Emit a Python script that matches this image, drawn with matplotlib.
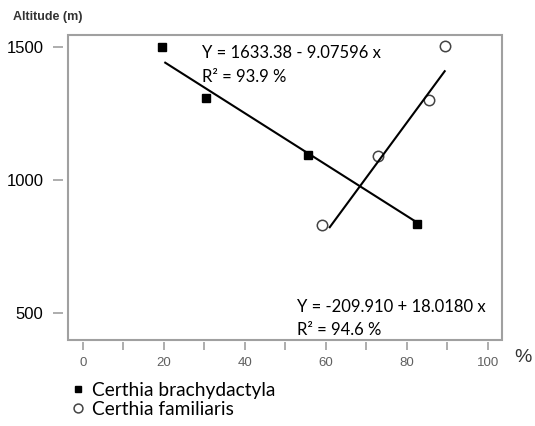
import numpy as np
import matplotlib
matplotlib.use('Agg')
from matplotlib import pyplot as plt
from matplotlib.patches import Rectangle

# Certhia brachydactyla (filled squares)
brachy_pct = [19.6, 30.4, 55.5, 82.6]
brachy_alt = [1500, 1307, 1091, 834]
# regression line as drawn (end points)
brachy_fit_x = [20.1, 82.0]
brachy_fit_y = [1442, 844]

# Certhia familiaris (open circles)
famil_pct = [59.1, 72.8, 85.5, 89.5]
famil_alt = [831, 1088, 1301, 1503]
famil_fit_x = [60.8, 89.5]
famil_fit_y = [818, 1411]

brachy_eq = ['Y = 1633.38 - 9.07596 x', 'R² = 93.9 %']
famil_eq = ['Y = -209.910 + 18.0180 x', 'R² = 94.6 %']
legend_labels = ['Certhia brachydactyla', 'Certhia familiaris']

x_major = [0, 20, 40, 60, 80, 100]
x_minor = [10, 30, 50, 70, 90]
y_ticks = [500, 1000, 1500]

W, H = 535, 426
fig = plt.figure(figsize=(W / 100, H / 100), dpi=100)
ax = fig.add_axes([68 / W, 1 - 340 / H, 434 / W, 305 / H])

frame_c = '#a0a0a0'
txt_font = ['Lato', 'DejaVu Sans']
ax_font = ['Liberation Sans', 'DejaVu Sans']

sq, = ax.plot(brachy_pct, brachy_alt, 's', color='black', ms=5.5, ls='none')
ci, = ax.plot(famil_pct, famil_alt, 'o', mfc='white', mec='#444444', mew=1.1,
              ms=7.5, ls='none')
ax.plot(brachy_fit_x, brachy_fit_y, color='black', lw=1.5, solid_capstyle='butt')
ax.plot(famil_fit_x, famil_fit_y, color='black', lw=1.5, solid_capstyle='butt')

ax.set_xlim(-3.7, 103.5)
ax.set_ylim(397, 1544)

# detached ticks, frame drawn separately
for s in ax.spines.values():
    s.set_visible(False)
ax.spines['left'].set_position(('outward', 3.6))
ax.spines['bottom'].set_position(('outward', 1.4))
ax.add_patch(Rectangle((0, 0), 1, 1, transform=ax.transAxes, fill=False,
                       ec=frame_c, lw=1.5, clip_on=False, zorder=5))

ax.set_xticks(x_major)
ax.set_xticks(x_minor, minor=True)
ax.set_yticks(y_ticks)
ax.tick_params(axis='y', length=7.2, width=1.2, color=frame_c, pad=7,
               labelsize=12, labelcolor='black')
ax.tick_params(axis='x', which='both', length=6, width=1.2, color=frame_c,
               pad=5, labelsize=9.5, labelcolor='#606060')
for lab in ax.get_xticklabels() + ax.get_yticklabels():
    lab.set_family(ax_font)

ax.text(0.309, 0.925, brachy_eq[0], transform=ax.transAxes, family=txt_font,
        fontsize=12, va='baseline')
ax.text(0.309, 0.846, brachy_eq[1], transform=ax.transAxes, family=txt_font,
        fontsize=12, va='baseline')
ax.text(0.527, 0.092, famil_eq[0], transform=ax.transAxes, family=txt_font,
        fontsize=12, va='baseline')
ax.text(0.527, 0.016, famil_eq[1], transform=ax.transAxes, family=txt_font,
        fontsize=12, va='baseline')

fig.text(13 / W, 1 - 20 / H, 'Altitude (m)', family=ax_font, fontsize=9,
         fontweight='bold', color='#333333', va='baseline')
fig.text(523 / W, 1 - 357 / H, '%', family=ax_font, fontsize=14,
         ha='center', va='center', color='#333333')

leg = ax.legend([sq, ci], legend_labels, loc='upper left',
                bbox_to_anchor=(72 / W, 1 - 382 / H), bbox_transform=fig.transFigure,
                frameon=False, prop={'family': txt_font, 'size': 13.8},
                handlelength=0.6, handletextpad=0.45, labelspacing=0.1,
                borderpad=0, borderaxespad=0, markerscale=0.85)

fig.savefig('out.png', dpi=100)
